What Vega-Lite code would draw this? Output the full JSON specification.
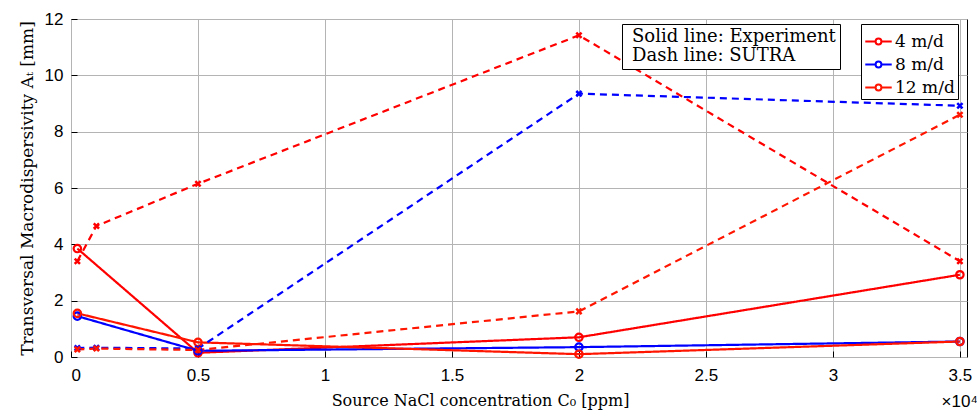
{
  "$schema": "https://vega.github.io/schema/vega-lite/v6.json",
  "autosize": {"type": "none"},
  "width": 896,
  "height": 338,
  "padding": {"left": 71, "top": 19, "right": 10, "bottom": 57},
  "background": "white",
  "title": {"text": "×10⁴", "orient": "bottom", "anchor": "end", "font": "Liberation Sans", "fontSize": 17, "fontWeight": "normal", "color": "black", "offset": -14, "dx": 6},
  "config": {
    "view": {"stroke": "black", "strokeWidth": 1},
    "axis": {"labelFont": "Liberation Sans", "labelFontSize": 17, "labelColor": "black", "titleFont": "DejaVu Serif", "titleFontSize": 16, "titleFontWeight": "normal", "titleColor": "black", "gridColor": "#b4b4b4", "gridWidth": 1, "domain": false, "tickColor": "black", "tickSize": -6}
  },
  "data": {"values": [
    {"x": 250, "y": 3.85, "speed": "4 m/d", "type": "Experiment"},
    {"x": 5000, "y": 0.15, "speed": "4 m/d", "type": "Experiment"},
    {"x": 20000, "y": 0.7, "speed": "4 m/d", "type": "Experiment"},
    {"x": 35000, "y": 2.92, "speed": "4 m/d", "type": "Experiment"},
    {"x": 250, "y": 1.45, "speed": "8 m/d", "type": "Experiment"},
    {"x": 5000, "y": 0.22, "speed": "8 m/d", "type": "Experiment"},
    {"x": 20000, "y": 0.35, "speed": "8 m/d", "type": "Experiment"},
    {"x": 35000, "y": 0.55, "speed": "8 m/d", "type": "Experiment"},
    {"x": 250, "y": 1.55, "speed": "12 m/d", "type": "Experiment"},
    {"x": 5000, "y": 0.52, "speed": "12 m/d", "type": "Experiment"},
    {"x": 20000, "y": 0.1, "speed": "12 m/d", "type": "Experiment"},
    {"x": 35000, "y": 0.55, "speed": "12 m/d", "type": "Experiment"},
    {"x": 250, "y": 3.4, "speed": "4 m/d", "type": "SUTRA"},
    {"x": 1000, "y": 4.65, "speed": "4 m/d", "type": "SUTRA"},
    {"x": 5000, "y": 6.15, "speed": "4 m/d", "type": "SUTRA"},
    {"x": 20000, "y": 11.42, "speed": "4 m/d", "type": "SUTRA"},
    {"x": 35000, "y": 3.4, "speed": "4 m/d", "type": "SUTRA"},
    {"x": 250, "y": 0.32, "speed": "8 m/d", "type": "SUTRA"},
    {"x": 1000, "y": 0.33, "speed": "8 m/d", "type": "SUTRA"},
    {"x": 5000, "y": 0.3, "speed": "8 m/d", "type": "SUTRA"},
    {"x": 20000, "y": 9.35, "speed": "8 m/d", "type": "SUTRA"},
    {"x": 35000, "y": 8.92, "speed": "8 m/d", "type": "SUTRA"},
    {"x": 250, "y": 0.27, "speed": "12 m/d", "type": "SUTRA"},
    {"x": 1000, "y": 0.3, "speed": "12 m/d", "type": "SUTRA"},
    {"x": 5000, "y": 0.25, "speed": "12 m/d", "type": "SUTRA"},
    {"x": 20000, "y": 1.62, "speed": "12 m/d", "type": "SUTRA"},
    {"x": 35000, "y": 8.6, "speed": "12 m/d", "type": "SUTRA"}
  ]},
  "encoding": {
    "x": {"field": "x", "type": "quantitative", "scale": {"domain": [0, 35280], "nice": false, "zero": false},
      "axis": {"values": [0, 5000, 10000, 15000, 20000, 25000, 30000, 35000], "labelExpr": "datum.value / 10000", "title": "Source NaCl concentration C₀ [ppm]", "titleX": 409, "titleY": 48, "titleBaseline": "alphabetic", "labelPadding": 16, "grid": true}},
    "y": {"field": "y", "type": "quantitative", "scale": {"domain": [0, 12], "nice": false},
      "axis": {"values": [0, 2, 4, 6, 8, 10, 12], "title": "Transversal Macrodispersivity Aₜ [mm]", "titleFontSize": 17, "titlePadding": 8, "labelPadding": 14, "grid": true}},
    "color": {"field": "speed", "type": "nominal",
      "scale": {"domain": ["4 m/d", "8 m/d", "12 m/d"], "range": ["#ff0000", "#0000ff", "#ff1500"]}}
  },
  "layer": [
    {
      "mark": {"type": "line", "strokeWidth": 2.2, "clip": true},
      "encoding": {
        "detail": {"field": "type"},
        "color": {"field": "speed", "type": "nominal",
          "scale": {"domain": ["4 m/d", "8 m/d", "12 m/d"], "range": ["#ff0000", "#0000ff", "#ff1500"]},
          "legend": {"title": null, "orient": "none", "legendX": 790, "legendY": 5, "strokeColor": "black", "fillColor": "white", "padding": 3, "symbolType": "M-1,0H-0.22M0.22,0H1M-0.22,0A0.22,0.22 0 1,0 0.22,0A0.22,0.22 0 1,0 -0.22,0", "symbolSize": 700, "symbolStrokeWidth": 2, "symbolFillColor": "transparent", "labelFont": "DejaVu Serif", "labelFontSize": 17, "labelColor": "black", "labelOffset": 2, "rowPadding": -4, "labelLimit": 300}},
        "strokeDash": {"field": "type", "type": "nominal",
          "scale": {"domain": ["Experiment", "SUTRA"], "range": [[1, 0], [7, 5]]},
          "legend": {"title": null, "orient": "none", "legendX": 551, "legendY": 5, "strokeColor": "black", "fillColor": "white", "padding": 4, "symbolSize": 0, "symbolOpacity": 0, "symbolStrokeWidth": 0, "labelOffset": -12, "labelFont": "DejaVu Serif", "labelFontSize": 18, "labelColor": "black", "rowPadding": 1, "labelLimit": 400,
            "labelExpr": "datum.label == 'Experiment' ? 'Solid line: Experiment' : 'Dash line: SUTRA'"}}
      }
    },
    {
      "transform": [{"filter": "datum.type == 'Experiment'"}],
      "mark": {"type": "point", "shape": "circle", "filled": false, "size": 55, "strokeWidth": 2.2, "opacity": 1}
    },
    {
      "transform": [{"filter": "datum.type == 'SUTRA'"}],
      "mark": {"type": "point", "shape": "M-1,-1L1,1M-1,1L1,-1", "filled": false, "size": 28, "strokeWidth": 2.5, "opacity": 1}
    }
  ]
}
